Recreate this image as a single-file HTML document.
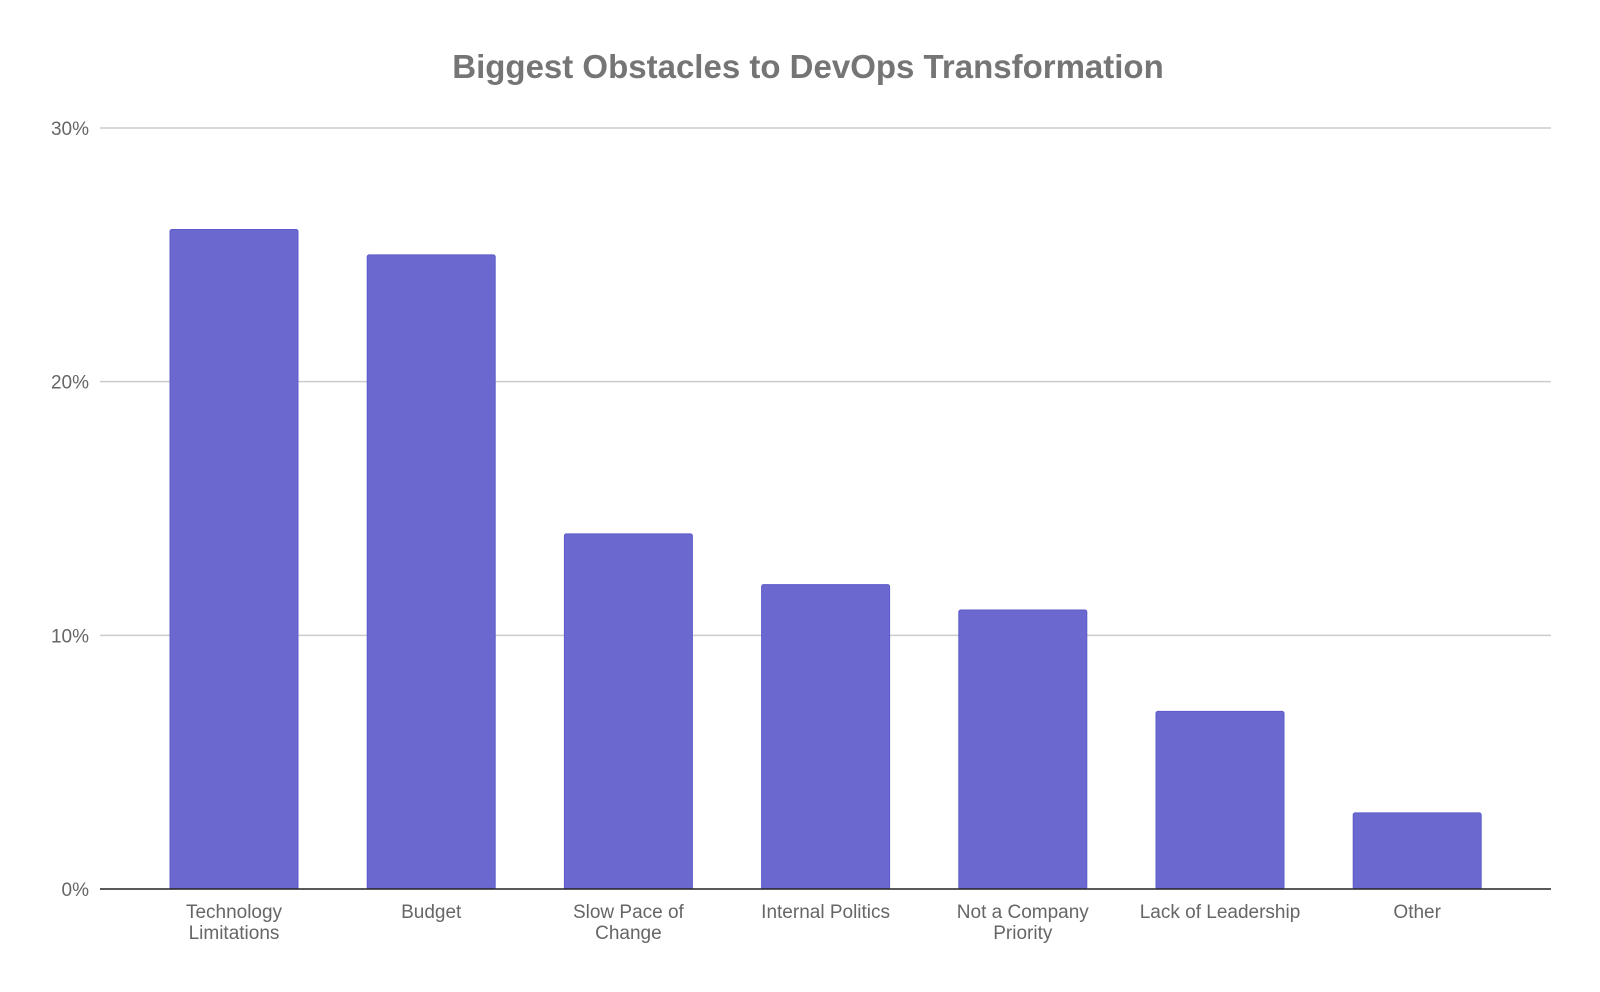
<!DOCTYPE html>
<html><head><meta charset="utf-8"><style>
body{margin:0;background:#fff;}
svg{display:block;font-family:"Liberation Sans",Arial,sans-serif;}
</style></head><body>
<svg id="chart" width="1600" height="992">
<text x="808" y="78" text-anchor="middle" font-size="33" font-weight="bold" fill="#757575">Biggest Obstacles to DevOps Transformation</text>
<g id="grid"></g><g id="bars"></g><g id="labels"></g>
</svg>
<script>
const categories=[["Technology","Limitations"],["Budget"],["Slow Pace of","Change"],["Internal Politics"],["Not a Company","Priority"],["Lack of Leadership"],["Other"]];
const values=[26,25,14,12,11,7,3];
const ticks=[0,10,20,30];
const tickLabels=["0%","10%","20%","30%"];
const NS="http://www.w3.org/2000/svg";
const y0=889,pxPer=(889-128)/30;
const y=v=>y0-v*pxPer;
const x=i=>234+i*197.2;
const bw=128;
function mk(t,a,p){const e=document.createElementNS(NS,t);for(const k in a)e.setAttribute(k,a[k]);p.appendChild(e);return e;}
const g=document.getElementById('grid'),b=document.getElementById('bars'),l=document.getElementById('labels');
ticks.forEach((t,i)=>{
  if(t!==0){const ln=mk('line',{x1:100,x2:1551,y1:y(t),y2:y(t),stroke:'#cccccc','stroke-width':1.5},g);
  
  }
  const tx=mk('text',{x:89,y:y(t)+7,'text-anchor':'end','font-size':19,fill:'#666'},g);
  tx.textContent=tickLabels[i];
  
  
});
values.forEach((v,i)=>{
  const r=mk('rect',{x:x(i)-bw/2,y:y(v),width:bw,height:y0-y(v),fill:'#6b69cf',stroke:'#5c5acb','stroke-width':1,rx:2},b);
  
  
  const t=mk('text',{x:x(i),y:918,'text-anchor':'middle','font-size':19,fill:'#666'},l);
  
  
  categories[i].forEach((s,j)=>{const ts=mk('tspan',{x:x(i),dy:j?21:0},t);ts.textContent=s;});
});
const ax=mk('line',{x1:100,x2:1551,y1:y0,y2:y0,stroke:'#222','stroke-width':1.5},l);


</script>
</body></html>
